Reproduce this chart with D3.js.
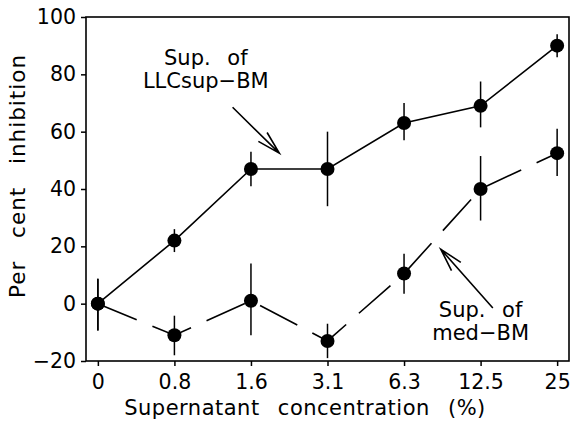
<!DOCTYPE html>
<html>
<head>
<meta charset="utf-8">
<script src="https://cdn.jsdelivr.net/npm/d3@7"></script>
<style>
  body { margin: 0; background: #fff; }
  svg { display: block; }
  text { font-family: "DejaVu Sans", sans-serif; fill: #000; }
</style>
</head>
<body>
<svg id="chart" width="571" height="423"></svg>
<script>
// Categories on the x axis (supernatant concentration, %)
const concentrations = ["0", "0.8", "1.6", "3.1", "6.3", "12.5", "25"];
const yTicks = [-20, 0, 20, 40, 60, 80, 100];

// Sup. of LLCsup-BM (solid line)
const llcMean = [0, 22, 47, 47, 63, 69, 90];
const llcHigh = [8.7, 26, 53, 60, 70, 77.5, 94];
const llcLow = [-9.4, 18, 41, 34, 57, 61.5, 86];

// Sup. of med-BM (dashed line)
const medMean = [0, -11, 1, -13, 10.5, 40, 52.5];
const medHigh = [8.7, -4.2, 14, -7, 17.4, 51.5, 61];
const medLow = [-9.4, -18, -11, -19, 3.5, 29, 44.5];

const conf = {
  width: 571,
  height: 423,
  left: 86,
  right: 569,
  top: 17,
  bottom: 361,
  r: 7,
};

const svg = d3.select('#chart');

const x = d3.scalePoint()
  .domain(concentrations)
  .range([conf.left, conf.right])
  .padding(0.155);

const y = d3.scaleLinear()
  .domain([-20, 100])
  .range([conf.bottom, conf.top]);

// helper to turn parallel arrays into point records
function rows(mean, hi, lo) {
  return concentrations.map((c, i) => ({c, v: mean[i], hi: hi[i], lo: lo[i]}));
}
const llc = rows(llcMean, llcHigh, llcLow);
const med = rows(medMean, medHigh, medLow);

// Axes
const xAxis = d3.axisBottom(x).tickSize(5).tickPadding(8);
const yAxis = d3.axisLeft(y).tickValues(yTicks).tickSize(5).tickPadding(5)
  .tickFormat(d => d < 0 ? '\u2212' + Math.abs(d) : d);

const gx = svg.append('g')
  .attr('transform', `translate(0,${conf.bottom})`)
  .call(xAxis);
const gy = svg.append('g')
  .attr('transform', `translate(${conf.left},0)`)
  .call(yAxis);

[gx, gy].forEach(g => {
  g.select('.domain').remove();
  g.selectAll('line').attr('stroke', '#000').attr('stroke-width', 1.5);
  g.selectAll('text')
    .attr('font-family', '"DejaVu Sans", sans-serif')
    .attr('font-size', 20.5)
    .attr('fill', '#000');
});

// Frame around the plot
svg.append('rect')
  .attr('x', conf.left)
  .attr('y', conf.top)
  .attr('width', conf.right - conf.left)
  .attr('height', conf.bottom - conf.top)
  .attr('fill', 'none')
  .attr('stroke', '#000')
  .attr('stroke-width', 1.6);

// Axis titles
svg.append('text')
  .attr('x', 305)
  .attr('y', 415)
  .attr('text-anchor', 'middle')
  .attr('font-size', 21)
  .style('letter-spacing', '0.5px')
  .style('word-spacing', '11px')
  .text('Supernatant concentration (%)');

svg.append('text')
  .attr('transform', 'translate(25,176) rotate(-90)')
  .attr('text-anchor', 'middle')
  .attr('font-size', 21.5)
  .style('letter-spacing', '1px')
  .style('word-spacing', '15px')
  .text('Per cent inhibition');

const line = d3.line()
  .x(d => x(d.c))
  .y(d => y(d.v));

// Error bars (no caps)
[llc, med].forEach(series => {
  svg.append('g').selectAll('line')
    .data(series)
    .enter().append('line')
    .attr('x1', d => x(d.c))
    .attr('x2', d => x(d.c))
    .attr('y1', d => y(d.hi))
    .attr('y2', d => y(d.lo))
    .attr('stroke', '#000')
    .attr('stroke-width', 1.5);
});

svg.append('path')
  .datum(llc)
  .attr('d', line)
  .attr('fill', 'none')
  .attr('stroke', '#000')
  .attr('stroke-width', 1.6);

svg.append('path')
  .datum(med)
  .attr('d', line)
  .attr('fill', 'none')
  .attr('stroke', '#000')
  .attr('stroke-width', 1.6)
  .attr('stroke-dasharray', '42,17');

[llc, med].forEach(series => {
  svg.append('g').selectAll('circle')
    .data(series)
    .enter().append('circle')
    .attr('cx', d => x(d.c))
    .attr('cy', d => y(d.v))
    .attr('r', conf.r)
    .attr('fill', '#000');
});

// Annotations: label lines and arrows, placed in data units
// (xi = position in category steps, v = per cent)
const labels = [
  {lines: ['Sup. of', 'LLCsup\u2212BM'], xi: 1.41, v: 83.3},
  {lines: ['Sup. of', 'med\u2212BM'], xi: 5.0, v: -4.5},
];
const arrows = [
  {from: [1.76, 68.5], to: [2.37, 52.5]},
  {from: [5.16, -1.5], to: [4.48, 19]},
];

function px(xi) {
  const step = x.step();
  return x(concentrations[0]) + xi * step;
}

labels.forEach(l => {
  l.lines.forEach((s, i) => {
    svg.append('text')
      .attr('text-anchor', 'middle')
      .attr('font-size', 21)
      .style('word-spacing', '10px')
      .attr('x', px(l.xi))
      .attr('y', y(l.v) + i * 23)
      .text(s);
  });
});

arrows.forEach(a => {
  const x0 = px(a.from[0]), y0 = y(a.from[1]);
  const x1 = px(a.to[0]), y1 = y(a.to[1]);
  const ang = Math.atan2(y0 - y1, x0 - x1);
  const len = 24, spread = 15 * Math.PI / 180;
  const b1 = [x1 + len * Math.cos(ang - spread), y1 + len * Math.sin(ang - spread)];
  const b2 = [x1 + len * Math.cos(ang + spread), y1 + len * Math.sin(ang + spread)];
  svg.append('path')
    .attr('d', `M${x0},${y0}L${x1},${y1}M${b1[0]},${b1[1]}L${x1},${y1}L${b2[0]},${b2[1]}`)
    .attr('fill', 'none')
    .attr('stroke', '#000')
    .attr('stroke-width', 1.6);
});
</script>
</body>
</html>
